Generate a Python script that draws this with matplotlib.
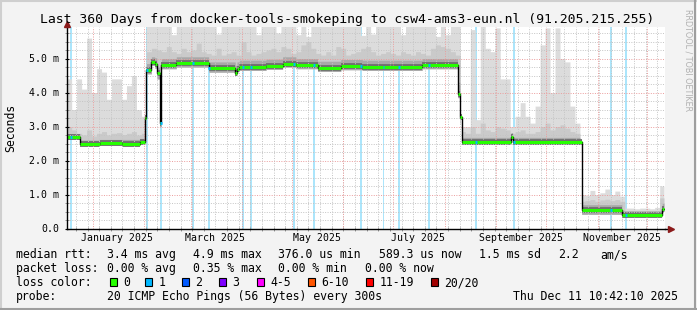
from datetime import datetime

import matplotlib

matplotlib.use("Agg")
import matplotlib.dates as mdates
import matplotlib.pyplot as plt
import numpy as np
from matplotlib.lines import Line2D
from matplotlib.patches import Rectangle
from matplotlib.ticker import FuncFormatter, MultipleLocator

START = datetime(2024, 12, 16, 10, 42)
END = datetime(2025, 12, 11, 10, 42)
TITLE = "Last 360 Days from docker-tools-smokeping to csw4-ams3-eun.nl (91.205.215.255)"

# median rtt in ms, as steps starting at day (since START)
med_day = [0, 8.3, 20, 33, 44, 47, 48, 51, 53, 54.3, 56, 57, 66, 85.5, 101.5,
           102.5, 104, 120, 130, 138, 151, 165, 178, 214, 235.3, 236.8, 237.8,
           267.5, 268.5, 310, 334.3, 358.5]
med_ms = [2.69, 2.49, 2.51, 2.50, 2.54, 3.25, 4.66, 4.90, 4.85, 4.56, 3.11,
          4.81, 4.87, 4.71, 4.57, 4.70, 4.75, 4.78, 4.85, 4.80, 4.72, 4.77,
          4.75, 4.80, 3.96, 3.28, 2.54, 2.70, 2.55, 0.53, 0.39, 0.58]
# bottom of smoke and top of the dark core around the median (same steps)
smoke_lo = [2.62, 2.45, 2.46, 2.46, 2.48, 3.20, 4.55, 4.80, 4.72, 4.40, 3.00,
            4.70, 4.75, 4.60, 4.50, 4.62, 4.65, 4.68, 4.75, 4.70, 4.62, 4.67,
            4.65, 4.70, 3.85, 3.10, 2.48, 2.62, 2.48, 0.42, 0.35, 0.50]
smoke_core = [2.78, 2.60, 2.62, 2.62, 2.65, 3.40, 4.85, 5.05, 5.02, 4.75, 3.30,
              5.00, 5.05, 4.90, 4.80, 4.90, 4.95, 4.98, 5.05, 5.00, 4.92, 4.97,
              4.95, 5.00, 4.30, 3.60, 2.68, 2.82, 2.68, 0.70, 0.52, 0.75]
DATA_END_DAY = 359.6

# smoke envelopes in 3-day bins (ms)
BIN_DAYS = 3
smoke_hi = [
    4.4, 3.5, 4.4, 4.1, 5.6, 4.0, 4.7, 4.6, 3.8, 4.4, 4.4, 3.8, 4.2, 4.5, 3.5, 3.3,
    6.0, 6.0, 6.0, 6.0, 6.0, 5.7, 6.0, 6.0, 6.0, 6.0,
    6.0, 6.0, 6.0, 6.0, 5.72, 6.0, 6.0, 6.0, 6.0, 6.0,
    6.0, 6.0, 5.7, 6.0, 6.0, 6.0, 5.75, 6.0, 6.0, 6.0,
    5.7, 6.0, 5.65, 6.0, 6.0, 6.0, 6.0, 6.0, 6.0, 6.0,
    6.0, 6.0, 6.0, 5.68, 6.0, 5.72, 6.0, 6.0, 6.0, 6.0,
    6.0, 5.7, 6.0, 6.0, 6.0, 6.0, 6.0, 6.0, 5.65, 6.0,
    5.7, 6.0, 6.0,
    3.0, 3.0, 5.85, 3.2, 6.0, 5.3, 5.2, 5.9, 4.4, 4.4, 3.0, 3.3, 3.7, 3.3, 3.1,
    3.6, 5.4, 5.9, 4.0, 5.9, 5.0, 4.9, 3.6, 3.1, 1.0,
    0.98, 1.12, 1.0, 1.05, 1.16, 1.0, 1.1, 0.95, 0.6, 0.6, 0.58, 0.6, 0.6, 0.58,
    0.62, 1.25,
]
smoke_mid = [
    3.0, 2.9, 2.8, 2.75, 2.9, 2.72, 2.8, 2.85, 2.75, 2.8, 2.82, 2.76, 2.8, 2.85,
    2.75, 2.8,
    5.2, 5.3, 5.25, 5.2, 5.35, 5.2, 5.15, 5.3, 5.2, 5.25,
    5.45, 5.2, 5.15, 5.1, 5.3, 5.1, 5.15, 5.2, 5.1, 5.5,
    5.2, 5.1, 5.15, 5.2, 5.25, 5.3, 5.2, 5.35, 5.3, 5.15,
    5.2, 5.4, 5.5, 5.3, 5.15, 5.1, 5.2, 5.1, 5.35, 5.3,
    5.1, 5.15, 5.2, 5.3, 5.35, 5.2, 5.1, 5.15, 5.2, 5.15,
    5.1, 5.2, 5.15, 5.1, 5.2, 5.15, 5.1, 5.3, 5.4, 5.35,
    5.3, 5.2, 5.1,
    2.85, 2.8, 3.0, 2.8, 3.1, 2.9, 2.85, 3.0, 2.95, 2.9, 2.8, 2.85, 2.9, 2.8,
    2.8, 2.85, 3.0, 3.1, 2.9, 3.0, 3.05, 2.95, 2.85, 2.8, 0.8,
    0.82, 0.85, 0.8, 0.84, 0.86, 0.82, 0.85, 0.8, 0.5, 0.52, 0.5, 0.5, 0.52,
    0.5, 0.52, 0.9,
]

# days with 1/20 packets lost
loss_day = [2.0, 48.0, 56.2, 75.4, 85.2, 105.7, 110.4, 136.1, 148.1, 176.6,
            190.2, 199.5, 217.7, 245.8, 268.9, 327.1, 336.1]

label_months = [1, 3, 5, 7, 9, 11]

rtt_text = ["median rtt:", "3.4 ms avg", "4.9 ms max", "376.0 us min",
            "589.3 us now", "1.5 ms sd", "2.2", "am/s"]
loss_text = ["packet loss:", "0.00 % avg", "0.35 % max", "0.00 % min",
             "0.00 % now"]
loss_labels = ["0", "1", "2", "3", "4-5", "6-10", "11-19", "20/20"]
loss_colors = ["#26ff00", "#00b8ff", "#0059ff", "#7e00ff", "#ff00ff",
               "#ff5500", "#ff0000", "#a10000"]
probe_text = "20 ICMP Echo Pings (56 Bytes) every 300s"
stamp_text = "Thu Dec 11 10:42:10 2025"

W, H = 697, 310
MONO = "DejaVu Sans Mono"


def step_at(edges, values, days):
    idx = np.searchsorted(edges, days, side="right") - 1
    return np.asarray(values, dtype=float)[np.clip(idx, 0, len(values) - 1)]


def fx(px):
    return px / W


def fy(py):
    return 1 - py / H


def main():
    fig = plt.figure(figsize=(W / 100, H / 100), dpi=100, facecolor="#f3f3f3")
    ax = fig.add_axes([fx(66.7), fy(228.5), 598 / W, 201.5 / H])
    ax.set_facecolor("white")

    x0 = mdates.date2num(START)
    x1 = mdates.date2num(END)

    t = np.arange(0.0, DATA_END_DAY, 0.05)
    x = x0 + t
    bin_edges = np.arange(len(smoke_hi)) * BIN_DAYS
    lo = step_at(med_day, smoke_lo, t)
    hi = np.maximum(step_at(bin_edges, smoke_hi, t), lo)
    mid = np.clip(step_at(bin_edges, smoke_mid, t), lo, hi)
    core = np.clip(step_at(med_day, smoke_core, t), lo, hi)

    # loss background
    for d in loss_day:
        ax.axvspan(x0 + d, x0 + d + 1.1, color="#abe5fb", lw=0, zorder=0.8)

    ax.fill_between(x, lo, hi, color="#dcdcdc", lw=0, zorder=1)
    ax.fill_between(x, lo, mid, color="#cacaca", lw=0, zorder=1.1)
    ax.fill_between(x, lo, core, color="#a8a8a8", lw=0, zorder=1.2)

    starts = x0 + np.array(med_day)
    ends = np.append(starts[1:], x0 + DATA_END_DAY)
    step_x = np.append(starts, x0 + DATA_END_DAY)
    step_y = np.append(med_ms, med_ms[-1])
    ax.hlines(med_ms, starts, ends, color="#707070", lw=4.2, zorder=1.3)

    # grid on top of the smoke
    grid_kw = dict(linestyle=(0, (1, 1.5)), lw=0.7, zorder=2.5)
    weeks = mdates.WeekdayLocator(byweekday=mdates.SU)
    for d in weeks.tick_values(START, END):
        ax.axvline(d, color="#c4c4c4", **grid_kw)
    for d in mdates.MonthLocator().tick_values(START, END):
        ax.axvline(d, color="#eb9c9c", **grid_kw)
    ax.yaxis.set_major_locator(MultipleLocator(1.0))
    ax.yaxis.set_minor_locator(MultipleLocator(0.25))
    ax.yaxis.grid(True, which="minor", color="#c4c4c4", **grid_kw)
    ax.yaxis.grid(True, which="major", color="#eb9c9c", **grid_kw)

    ax.step(step_x, step_y, where="post", color="black", lw=1, zorder=3)
    ax.hlines(med_ms, starts, ends, color=loss_colors[0], lw=2.2, zorder=3.2)
    loss_x = x0 + np.array(loss_day)
    ax.hlines(step_at(med_day, med_ms, np.array(loss_day) + 0.5), loss_x,
              loss_x + 1.1, color=loss_colors[1], lw=2.2, zorder=3.3)

    ax.set_xlim(x0, x1)
    ax.set_ylim(0, 201.5 / 34)

    ax.xaxis.set_major_locator(
        mdates.MonthLocator(bymonth=label_months, bymonthday=16))
    ax.xaxis.set_major_formatter(mdates.DateFormatter("%B %Y"))
    ax.xaxis.set_minor_locator(weeks)
    ax.yaxis.set_major_formatter(
        FuncFormatter(lambda v, _: "0.0" if v == 0 else f"{v:.1f} m"))

    ax.tick_params(axis="x", which="major", length=0, pad=3,
                   labelsize=7.1)
    ax.tick_params(axis="x", which="minor", length=3, direction="inout",
                   color="#888888")
    ax.tick_params(axis="y", which="major", length=3, direction="inout",
                   pad=3.8, labelsize=7.1)
    ax.tick_params(axis="y", which="minor", length=3, direction="inout",
                   color="#888888")
    for lab in ax.get_xticklabels() + ax.get_yticklabels():
        lab.set_fontfamily(MONO)

    for side in ("top", "right"):
        ax.spines[side].set_visible(False)
    for side in ("left", "bottom"):
        ax.spines[side].set_linewidth(1)
        ax.spines[side].set_zorder(4)
    ax.plot([0, 0], [1.0, 1.02], transform=ax.transAxes, color="black",
            lw=1, clip_on=False)
    ax.plot([1.0, 1.006], [0, 0], transform=ax.transAxes, color="black",
            lw=1, clip_on=False)
    ax.plot([0], [1.015], marker="^", ms=4, color="#8b1a1a",
            transform=ax.transAxes, clip_on=False, zorder=5)
    ax.plot([1.0097], [0], marker=">", ms=4, color="#8b1a1a",
            transform=ax.transAxes, clip_on=False, zorder=5)

    fig.text(fx(347), fy(23.5), TITLE, ha="center", va="baseline",
             family=MONO, fontsize=9.45)
    fig.text(fx(10.3), fy(127.5), "Seconds", rotation=90, ha="center",
             va="center", family=MONO, fontsize=8.3)
    fig.text(fx(688), fy(60), "RRDTOOL / TOBI OETIKER", rotation=270,
             ha="center", va="center", fontsize=5.8, color="#b0b0b0")

    leg = dict(family=MONO, fontsize=8.3, va="baseline", ha="left")
    for px, s in zip([16, 107.3, 192.7, 278.3, 379.3, 479.3, 558.3, 600],
                     rtt_text):
        fig.text(fx(px), fy(258.3), s, **leg)
    for px, s in zip([16, 107.3, 193.3, 278.3, 365], loss_text):
        fig.text(fx(px), fy(272.3), s, **leg)
    fig.text(fx(16), fy(286.3), "loss color:", **leg)
    box_x = [110, 145, 182, 219, 256.5, 307.5, 366, 431]
    for px, s, c in zip(box_x, loss_labels, loss_colors):
        fig.add_artist(Rectangle((fx(px), fy(286.3)), 7 / W, 8.3 / H,
                                 transform=fig.transFigure, facecolor=c,
                                 edgecolor="black", lw=0.8))
        fig.text(fx(px + 13.5), fy(286.3), s, **leg)
    fig.text(fx(16), fy(300), "probe:", **leg)
    fig.text(fx(107.3), fy(300), probe_text, **leg)
    fig.text(fx(513.3), fy(300), stamp_text, **leg)

    # 3d frame
    for xs, ys, c in [([0, 1], [0.998, 0.998], "#cfcfcf"),
                      ([0.001, 0.001], [0, 1], "#cfcfcf"),
                      ([0, 1], [0.003, 0.003], "#9e9e9e"),
                      ([0.9975, 0.9975], [0, 1], "#9e9e9e")]:
        fig.add_artist(Line2D(xs, ys, transform=fig.transFigure, color=c,
                              lw=1.5))

    fig.savefig("out.png", dpi=100, facecolor=fig.get_facecolor())


if __name__ == "__main__":
    main()
